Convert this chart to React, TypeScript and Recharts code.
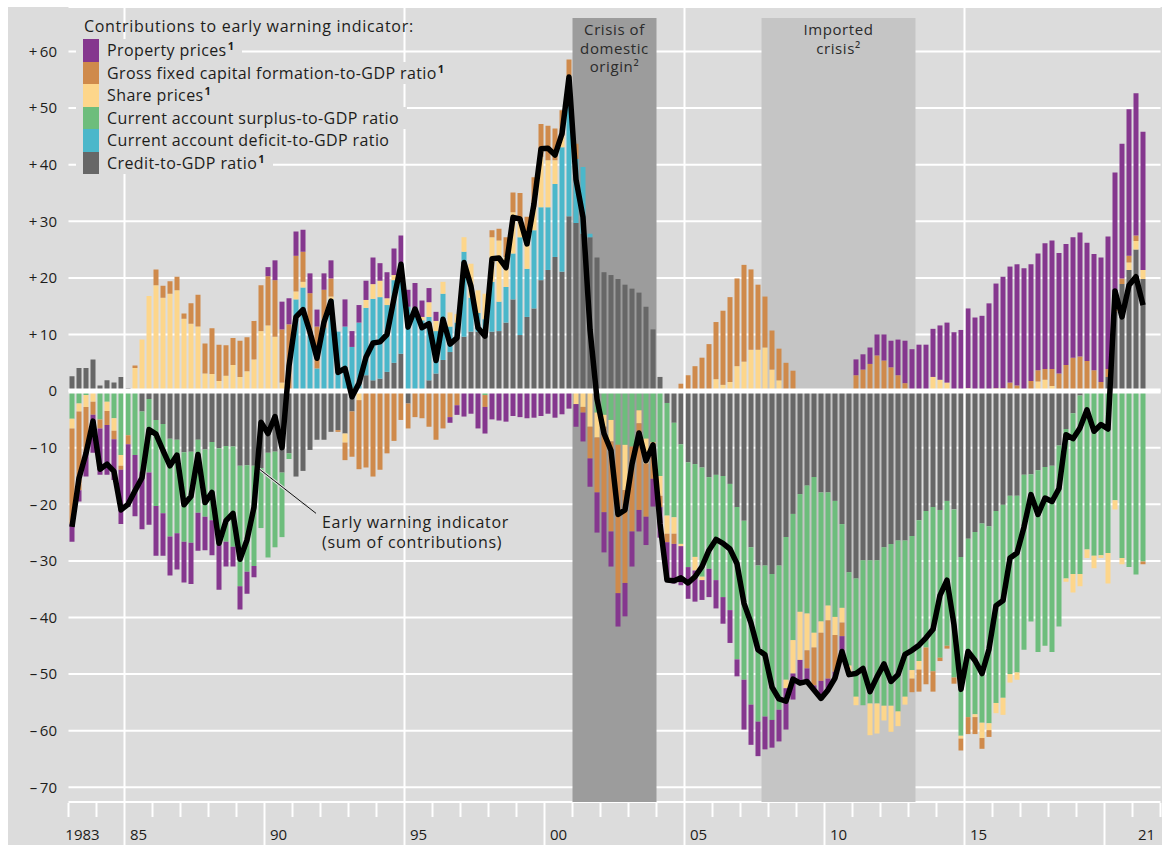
import React from "react";
import {
  Bar,
  CartesianGrid,
  ComposedChart,
  Line,
  ReferenceArea,
  ReferenceLine,
  XAxis,
  YAxis,
} from "recharts";

// quarterly, 1983Q1 .. 2021Q2
const START_YEAR = 1983;

const credit = [
  2.6, 4.1, 4.1, 5.6, 1.0, 1.9, 1.5, 2.5, 0.5, 0,
  -3.6, -1.4, -5.1, -5.8, -8.4, -8.6, -10.8, -10.7, -8.6, -10.3,
  -9.0, -10.1, -9.7, -9.8, -13.2, -13.1, -13.2, -13.6, -10.9, -10.7,
  -14.4, -11.0, -15.1, -14.1, -10.4, -8.6, -8.6, -7.2, -6.9, -7.5,
  -3.6, 0, 2.8, 1.9, 2.2, 3.4, 5.0, 6.6, -2.2, 0,
  0, 1.9, 3.1, 5.5, 6.9, 9.6, 9.6, 10.5, 10.5, 10.5,
  10.5, 10.6, 12.1, 16.2, 9.9, 13.1, 14.6, 19.6, 21.4, 23.7,
  21.1, 30.9, 29.7, 27.8, 27.2, 23.6, 21.0, 20.5, 19.8, 18.8,
  18.1, 17.4, 14.9, 10.9, 2.5, -2.1, -5.6, -9.4, -12.6, -12.9,
  -13.5, -15.2, -14.8, -15.0, -16.4, -20.5, -22.9, -27.6, -30.8, -30.8,
  -32.3, -30.8, -25.8, -21.7, -18.2, -16.7, -15.2, -17.9, -17.9, -19.4,
  -23.5, -32.0, -33.1, -29.9, -29.9, -29.9, -27.6, -27.0, -26.4, -26.4,
  -25.6, -22.8, -21.2, -20.5, -21.0, -19.4, -20.9, -29.3, -26.1, -24.9,
  -23.4, -23.9, -21.2, -20.1, -18.5, -18.5, -14.8, -14.7, -14.0, -13.4,
  -13.2, -9.6, -6.7, -3.9, -0.8, 0, 0, 0, 2.5, 14.0,
  18.9, 21.4, 25.0, 19.8,
];

const caSurplus = [
  -4.9, -2.2, -0.7, 0, -5.0, -1.9, -4.8, -11.3, -7.8, -11.3,
  -10.6, -13.0, -15.2, -15.8, -17.3, -16.5, -15.8, -16.1, -12.9, -11.9,
  -13.8, -17.1, -16.9, -17.7, -21.3, -18.8, -17.7, -10.6, -18.5, -16.9,
  -11.4, -1.0, 0, 0, 0, 0, 0, 0, 0, 0,
  0, 0, 0, 0, 0, 0, 0, 0, 0, 0,
  0, 0, 0, 0, 0, 0, 0, 0, 0, -0.7,
  0, 0, 0, 0, 0, 0, 0, 0, 0, 0,
  0, 0, 0, 0, 0, -3.8, -4.2, -5.1, -9.5, -9.5,
  -9.8, -3.4, -8.4, -9.0, -15.0, -19.9, -16.7, -17.6, -18.5, -16.4,
  -19.3, -16.2, -18.6, -21.4, -22.3, -26.9, -28.1, -27.8, -27.6, -26.7,
  -25.8, -25.5, -25.2, -22.3, -20.8, -22.6, -27.5, -22.8, -20.0, -20.5,
  -14.8, -16.5, -20.9, -25.6, -25.3, -25.3, -28.0, -28.6, -30.2, -27.6,
  -23.7, -24.9, -24.1, -29.0, -26.1, -25.6, -29.7, -31.6, -31.5, -32.2,
  -35.2, -34.8, -33.9, -34.1, -31.5, -31.2, -30.9, -26.0, -32.1, -31.6,
  -32.9, -32.0, -26.4, -28.4, -31.5, -28.0, -29.1, -29.0, -28.6, -19.3,
  -29.5, -31.1, -32.4, -30.1,
];

const caDeficit = [
  0, 0, 0, 0, 0, 0, 0, 0, 0, 0,
  0, 0, 0, 0, 0, 0, 0, 0, 0, 0,
  0, 0, 0, 0, 0, 0, 0, 0, 0, 0,
  0, 0, 16.2, 18.3, 10.0, 4.0, 11.2, 16.2, 10.5, 11.4,
  7.8, 12.1, 11.9, 14.4, 14.4, 11.8, 14.6, 15.9, 14.9, 14.6,
  12.5, 11.2, 7.5, 11.7, 4.5, 2.5, 15.0, 6.0, 3.3, 2.2,
  8.8, 5.2, 6.3, 8.1, 17.3, 8.5, 13.8, 12.9, 11.1, 12.9,
  22.0, 21.6, 11.3, 11.8, 0.6, 0, 0, 0, 0, 0,
  0, 0, 0, 0, 0, 0, 0, 0, 0, 0,
  0, 0, 0, 0, 0, 0, 0, 0, 0, 0,
  0, 0, 0, 0, 0, 0, 0, 0, 0, 0,
  0, 0, 0, 0, 0, 0, 0, 0, 0, 0,
  0, 0, 0, 0, 0, 0, 0, 0, 0, 0,
  0, 0, 0, 0, 0, 0, 0, 0, 0, 0,
  0, 0, 0, 0, 0, 0, 0, 0, 0, 0,
  0, 0, 0, 0,
];

const sharePrices = [
  -1.7, -1.4, -2.1, -1.9, 0, -1.6, -2.2, -1.9, 0, 4.1,
  9.1, 16.8, 18.7, 16.5, 17.2, 17.8, 12.8, 11.9, 11.4, 3.1,
  3.0, 1.8, 2.7, 4.6, 2.5, 3.5, 5.6, 10.6, 11.6, 9.6,
  1.5, 0, 1.4, 1.0, 0, 0, 0, 0.5, 0, -1.6,
  0, -1.6, 1.4, 2.6, 2.9, 1.2, 0.9, 0, 0, 0,
  0.6, 2.6, 1.8, 2.1, 2.5, 1.5, 2.6, 6.0, 4.0, 4.5,
  7.9, 10.8, 5.3, 7.3, 2.8, 5.0, 4.1, 8.9, 8.3, 4.2,
  2.0, 3.3, -2.3, -2.8, -6.3, -4.4, -2.1, -3.8, 0, -8.0,
  0, -2.3, -4.4, -1.5, -3.5, -3.2, -2.9, -0.4, 0, -2.4,
  -0.6, 0, 2.1, 1.1, 1.6, 4.4, 5.2, 7.3, 7.3, 7.7,
  3.8, 1.9, -1.5, -5.9, -8.5, -6.5, -2.6, -2.0, -2.6, -3.2,
  -2.6, -1.6, -1.5, 0, -5.6, -5.3, -2.6, -4.6, -2.6, -1.4,
  -1.5, -1.5, 0, 2.5, 2.0, 1.5, 0, -0.5, 0.5, -0.5,
  -2.7, -1.2, -1.8, -3.0, -1.5, -1.3, 0, 0, 1.7, 2.0,
  0.9, 0, -0.6, -3.3, -2.2, -1.5, -2.2, -0.5, -5.4, -1.6,
  -1.1, 1.3, 1.5, 1.6,
];

const gfcf = [
  -16.9, -13.9, -8.2, -2.3, -1.6, -2.5, -1.5, -0.7, -1.6, 0.4,
  0, 0, 2.8, 2.1, 2.2, 2.4, 0.9, 3.6, 5.6, 5.3,
  8.1, 6.4, 5.4, 4.8, 6.4, 6.0, 6.8, 8.1, 8.7, 10.0,
  9.4, 11.8, 6.3, 5.3, 7.3, 7.4, 6.7, 3.2, -0.3, -3.1,
  -8.0, -12.2, -13.5, -15.1, -13.9, -11.0, -8.8, -5.1, -4.4, -4.6,
  -4.8, -6.3, -8.6, -6.6, -4.6, -2.5, 0, 0, 0, -2.1,
  1.2, 2.1, 3.5, 3.5, 5.0, 4.2, 5.3, 5.8, 6.1, 5.6,
  4.5, 2.8, 2.7, -1.0, -5.6, -9.7, -15.1, -15.9, -26.2, -16.4,
  -15.0, -15.3, -9.4, -5.0, -2.0, -1.5, -1.8, 1.3, 2.8, 4.4,
  5.9, 8.3, 10.1, 13.1, 15.0, 15.5, 17.1, 14.2, 11.5, 9.0,
  6.9, 5.6, 5.0, 3.6, 0, -3.2, -6.7, -8.5, -10.3, -6.5,
  -2.4, 0, 2.8, 3.8, 4.8, 6.3, 5.4, 4.2, 2.8, 1.4,
  -2.4, -3.9, -6.5, -3.6, -0.6, -0.5, -1.1, -2.1, -3.0, -3.0,
  -1.9, -1.2, 0.5, 0.5, 1.5, 1.0, 0, 1.8, 2.0, 1.9,
  3.0, 3.1, 4.6, 5.9, 6.1, 5.3, 3.7, 1.6, 1.4, 0.5,
  1.0, 1.2, 1.0, -0.5,
];

const property = [
  -3.1, -2.0, -4.1, -6.7, -8.2, -8.8, -7.2, -9.6, -11.1, -10.8,
  -10.2, -9.2, -8.8, -7.5, -6.9, -6.4, -7.2, -7.3, -6.7, -5.9,
  -6.2, -7.9, -4.4, -3.5, -4.1, -3.9, -2.0, 0, 1.6, 3.5,
  4.9, 4.6, 4.3, 3.9, 3.5, 3.0, 2.9, 3.2, 0, 4.8,
  2.8, 3.1, 3.4, 4.7, 3.1, 4.6, 4.7, 5.0, 3.0, 4.5,
  2.9, 2.5, 1.6, 0, -1.0, -1.7, -4.5, -4.0, -6.6, -4.7,
  -5.0, -5.2, -5.4, -4.4, -4.6, -4.8, -4.7, -4.4, -4.0, -4.7,
  -4.1, -3.1, -4.0, -5.1, -5.0, -7.1, -7.1, -6.2, -5.9, -5.9,
  -6.2, -3.8, -5.0, -4.9, -5.4, -6.7, -7.0, -6.9, -5.6, -5.5,
  -3.5, -5.0, -5.0, -4.7, -5.8, -3.0, -8.8, -7.1, -6.1, -5.8,
  -4.9, -5.6, -7.3, -4.6, -4.1, -2.3, -0.8, -3.1, -2.0, -1.1,
  -2.7, 0, 2.8, 2.7, 2.9, 3.7, 4.6, 4.7, 6.3, 7.5,
  7.4, 8.2, 8.2, 8.5, 9.6, 10.6, 10.4, 10.8, 14.1, 13.0,
  13.3, 15.5, 18.5, 19.7, 20.5, 21.4, 21.7, 20.6, 20.6, 22.2,
  22.7, 21.3, 21.4, 21.3, 21.9, 20.9, 20.5, 22.0, 23.4, 24.1,
  23.8, 25.9, 25.1, 24.4,
];

const warningIndicator = [
  -24.0, -15.4, -11.0, -5.3, -13.8, -12.9, -14.2, -21.0, -20.0, -17.6,
  -15.3, -6.8, -7.6, -10.5, -13.2, -11.3, -20.1, -18.6, -11.2, -19.7,
  -17.9, -26.9, -22.9, -21.6, -29.7, -26.3, -20.5, -5.5, -7.5, -4.5,
  -10.0, 4.4, 13.1, 14.4, 10.4, 5.8, 12.2, 15.9, 3.3, 4.0,
  -1.0, 1.4, 6.0, 8.5, 8.7, 10.0, 16.4, 22.4, 11.3, 14.5,
  11.2, 11.9, 5.4, 12.7, 8.3, 9.4, 22.7, 18.5, 11.2, 9.7,
  23.4, 23.5, 21.8, 30.7, 30.4, 26.0, 33.1, 42.8, 42.9, 41.7,
  45.5, 55.5, 37.4, 30.7, 10.9, -1.4, -7.5, -10.5, -21.8, -21.0,
  -12.9, -7.4, -12.3, -9.5, -23.4, -33.4, -33.5, -33.0, -33.9, -32.8,
  -31.0, -28.1, -26.2, -26.9, -27.9, -30.5, -37.5, -41.0, -45.7, -46.6,
  -52.3, -54.4, -54.8, -50.9, -51.6, -51.3, -52.8, -54.3, -52.8, -50.7,
  -46.0, -50.1, -49.9, -49.0, -53.1, -50.5, -48.2, -51.3, -50.1, -46.5,
  -45.8, -44.9, -43.6, -42.1, -36.1, -33.4, -41.3, -52.7, -46.0, -47.6,
  -49.9, -45.6, -37.9, -37.0, -29.5, -28.6, -24.0, -18.3, -21.8, -18.9,
  -19.5, -17.2, -7.7, -8.4, -6.5, -3.3, -7.1, -5.9, -6.7, 17.7,
  13.1, 18.7, 20.2, 15.2,
];

const Y_TICKS = [-70, -60, -50, -40, -30, -20, -10, 0, 10, 20, 30, 40, 50, 60];
const YEARS = Array.from({ length: 2022 - START_YEAR + 1 }, (_, k) => START_YEAR + k);
const GRID_YEARS = [1985, 1995, 2005, 2015];
const LONG_TICK_YEARS = [1990, 2000, 2010, 2020];
const YEAR_LABELS: Record<number, string> = {
  1983: "1983",
  1985: "85",
  1990: "90",
  1995: "95",
  2000: "00",
  2005: "05",
  2010: "10",
  2015: "15",
  2021: "21",
};

const BG = "#dcdcdc";
const TEXT = "#1d1d1b";
const COLORS = {
  prop: "#85378e",
  gfcf: "#cf8a4b",
  share: "#fdd68b",
  caS: "#6dbd7c",
  caD: "#4bb7ca",
  credit: "#676767",
};

// sup = footnote mark
const LEGEND = [
  { label: "Property prices", sup: "1", color: COLORS.prop },
  { label: "Gross fixed capital formation-to-GDP ratio", sup: "1", color: COLORS.gfcf },
  { label: "Share prices", sup: "1", color: COLORS.share },
  { label: "Current account surplus-to-GDP ratio", sup: "", color: COLORS.caS },
  { label: "Current account deficit-to-GDP ratio", sup: "", color: COLORS.caD },
  { label: "Credit-to-GDP ratio", sup: "1", color: COLORS.credit },
];

const data = credit.map((_, i) => ({
  t: START_YEAR + i / 4 + 0.125,
  credit: credit[i],
  caS: caSurplus[i],
  caD: caDeficit[i],
  share: sharePrices[i],
  gfcf: gfcf[i],
  prop: property[i],
  ews: warningIndicator[i],
}));

function fmtY(v: number) {
  if (v > 0) return `+\u2009${v}`;
  if (v < 0) return `\u2013\u2009${-v}`;
  return "0";
}

function Sup({ children }: { children: React.ReactNode }) {
  return (
    <span style={{ fontSize: 11, fontWeight: 700, position: "relative", top: -6, marginLeft: 1 }}>
      {children}
    </span>
  );
}

function YearTick(props: any) {
  const { x, y, payload } = props;
  const yr = payload.value as number;
  const grid = GRID_YEARS.includes(yr);
  const long = LONG_TICK_YEARS.includes(yr);
  const label = YEAR_LABELS[yr];
  return (
    <g>
      <line
        x1={x}
        x2={x}
        y1={grid ? y - 1 : y + 1}
        y2={grid || long ? y + 44 : y + 15}
        stroke="#fff"
        strokeWidth={2}
      />
      {label && (
        <text x={x + 14} y={y + 38} textAnchor="middle" fontSize={15} fill={TEXT}>
          {label}
        </text>
      )}
    </g>
  );
}

// caption of a shaded crisis period, one <text> with a line per tspan
function AreaCaption(props: any) {
  const { viewBox, lines } = props;
  if (!viewBox) return null;
  const cx = viewBox.x + viewBox.width / 2;
  return (
    <text
      x={cx}
      y={viewBox.y + 17}
      textAnchor="middle"
      fontSize={15}
      letterSpacing={0.6}
      fill="#2b2b2b"
    >
      {lines.map((l: string, k: number) => (
        <tspan key={k} x={cx} dy={k === 0 ? 0 : 18.5}>
          {l}
        </tspan>
      ))}
    </text>
  );
}

export default function App() {
  return (
    <div
      style={{
        position: "absolute",
        left: 8,
        top: 7,
        width: 1154,
        height: 838,
        background: BG,
        fontFamily: '"Open Sans", "Noto Sans", sans-serif',
        color: TEXT,
        overflow: "hidden",
      }}
    >
      <ComposedChart
        width={1154}
        height={838}
        data={data}
        stackOffset="sign"
        margin={{ top: 0, right: 1.5, bottom: 0, left: 0 }}
      >
        <ReferenceArea
          x1={2001}
          x2={2004}
          y1={-72.6}
          y2={65.9}
          fill="#9c9c9c"
          fillOpacity={1}
          stroke="none"
          label={<AreaCaption lines={["Crisis of", "domestic", "origin²"]} />}
        />
        <ReferenceArea
          x1={2007.75}
          x2={2013.25}
          y1={-72.6}
          y2={65.9}
          fill="#c5c5c5"
          fillOpacity={1}
          stroke="none"
          label={<AreaCaption lines={["Imported", "crisis²"]} />}
        />
        <CartesianGrid stroke="#fff" strokeWidth={2} vertical={false} />
        {GRID_YEARS.map((yr) => (
          <ReferenceLine key={yr} x={yr} stroke="#fff" strokeWidth={2} />
        ))}
        <XAxis
          dataKey="t"
          type="number"
          domain={[1983, 2022]}
          allowDataOverflow
          ticks={YEARS}
          interval={0}
          tick={<YearTick />}
          tickLine={false}
          axisLine={false}
          tickSize={0}
          tickMargin={0}
          height={43}
        />
        <YAxis
          type="number"
          domain={[-72.6, 67.86]}
          allowDataOverflow
          ticks={Y_TICKS}
          interval={0}
          tickFormatter={fmtY}
          tick={{ fontSize: 15, fill: TEXT }}
          tickLine={false}
          axisLine={false}
          tickSize={0}
          tickMargin={11.5}
          width={60.5}
        />
        <Bar dataKey="credit" stackId="a" fill={COLORS.credit} barSize={5} isAnimationActive={false} />
        <Bar dataKey="caS" stackId="a" fill={COLORS.caS} barSize={5} isAnimationActive={false} />
        <Bar dataKey="caD" stackId="a" fill={COLORS.caD} barSize={5} isAnimationActive={false} />
        <Bar dataKey="share" stackId="a" fill={COLORS.share} barSize={5} isAnimationActive={false} />
        <Bar dataKey="gfcf" stackId="a" fill={COLORS.gfcf} barSize={5} isAnimationActive={false} />
        <Bar dataKey="prop" stackId="a" fill={COLORS.prop} barSize={5} isAnimationActive={false} />
        <ReferenceLine y={0} stroke="#fff" strokeWidth={5} />
        <ReferenceLine
          segment={[
            { x: 1989.77, y: -13.6 },
            { x: 1991.84, y: -21.6 },
          ]}
          stroke={BG}
          strokeWidth={3}
        />
        <ReferenceLine
          segment={[
            { x: 1989.77, y: -13.6 },
            { x: 1991.84, y: -21.6 },
          ]}
          stroke="#111"
          strokeWidth={1}
        />
        <Line
          dataKey="ews"
          type="linear"
          stroke="#000"
          strokeWidth={5.5}
          strokeLinejoin="round"
          dot={false}
          activeDot={false}
          isAnimationActive={false}
        />
      </ComposedChart>

      <div
        style={{
          position: "absolute",
          left: 76,
          top: 8,
          fontSize: 16,
          letterSpacing: 0.7,
          lineHeight: "22px",
          whiteSpace: "nowrap",
        }}
      >
        Contributions to early warning indicator:
      </div>
      <div style={{ position: "absolute", left: 68, top: 32 }}>
        {LEGEND.map((it) => (
          <div key={it.label} style={{ display: "flex", height: 22.5 }}>
            <div
              style={{
                display: "flex",
                alignItems: "center",
                background: BG,
                paddingLeft: 7,
                paddingRight: 8,
              }}
            >
              <span
                style={{ display: "block", width: 16, height: 22.5, background: it.color }}
              />
              <span
                style={{ marginLeft: 8, fontSize: 16, letterSpacing: 0.4, whiteSpace: "nowrap" }}
              >
                {it.label}
                {it.sup && <Sup>{it.sup}</Sup>}
              </span>
            </div>
          </div>
        ))}
      </div>

      <div
        style={{
          position: "absolute",
          left: 314,
          top: 505,
          fontSize: 16,
          letterSpacing: 0.7,
          lineHeight: "20px",
          whiteSpace: "nowrap",
        }}
      >
        Early warning indicator
        <br />
        (sum of contributions)
      </div>
    </div>
  );
}
